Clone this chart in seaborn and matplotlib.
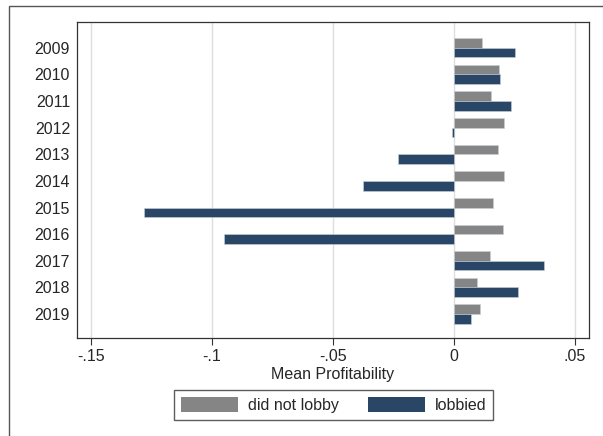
import pandas as pd
import matplotlib.pyplot as plt
import seaborn as sns
from matplotlib.patches import Rectangle

# Datos
years = ['2009', '2010', '2011', '2012', '2013', '2014', '2015', '2016', '2017', '2018', '2019']
did_not_lobby = [0.0117, 0.0188, 0.0153, 0.0208, 0.0182, 0.0206, 0.0160, 0.0203, 0.0149, 0.0094, 0.0109]
lobbied = [0.0253, 0.0190, 0.0236, -0.0008, -0.0232, -0.0377, -0.1280, -0.0952, 0.0374, 0.0266, 0.0072]
x_ticks = [-0.15, -0.1, -0.05, 0, 0.05]
x_tick_labels = ['-.15', '-.1', '-.05', '0', '.05']

df = pd.DataFrame({
    'year': years * 2,
    'value': did_not_lobby + lobbied,
    'group': ['did not lobby'] * len(years) + ['lobbied'] * len(years),
})

sns.set_style('white')
plt.rcParams['font.family'] = ['Liberation Sans', 'DejaVu Sans']

fig = plt.figure(figsize=(6.03, 4.36), dpi=100)
ax = fig.add_axes([77 / 603, 1 - 338 / 436, 512 / 603, 316 / 436])

# marco exterior (grafico recortado)
fig.patches.append(Rectangle((9 / 603, -0.1), 1.2, 1 - 6 / 436 + 0.1,
                             transform=fig.transFigure, fill=False,
                             edgecolor='#555555', linewidth=1.0))

for t in x_ticks:
    ax.axvline(t, color='#dedede', linewidth=1.0, zorder=0)

sns.barplot(data=df, y='year', x='value', hue='group', orient='h',
            palette={'did not lobby': '#858585', 'lobbied': '#1f4670'},
            width=0.72, gap=0, edgecolor='#c8d0d8', linewidth=0.4,
            ax=ax, zorder=2)

ax.set_xlim(-0.1558, 0.0558)
ax.set_ylim(10.9, -0.97)
ax.set_xticks(x_ticks)
ax.set_xticklabels(x_tick_labels, fontsize=11.5)
ax.tick_params(axis='x', direction='out', length=5, width=0.8, color='#333333', bottom=True, pad=3)
ax.tick_params(axis='y', length=0, labelsize=11.5, pad=5)
ax.set_xlabel('Mean Profitability', fontsize=11.5, labelpad=2)
ax.set_ylabel('')
for s in ax.spines.values():
    s.set_color('#333333')
    s.set_linewidth(0.9)

ax.legend(loc='upper center', bbox_to_anchor=(0.501, -0.165), borderaxespad=0, ncol=2,
          frameon=True, fancybox=False, edgecolor='#333333', fontsize=11.5,
          handlelength=3.6, handleheight=1.0, columnspacing=1.8,
          handletextpad=0.6, borderpad=0.45)
for h in ax.get_legend().legend_handles:
    h.set_edgecolor('none')

plt.savefig('out.png', dpi=100)
